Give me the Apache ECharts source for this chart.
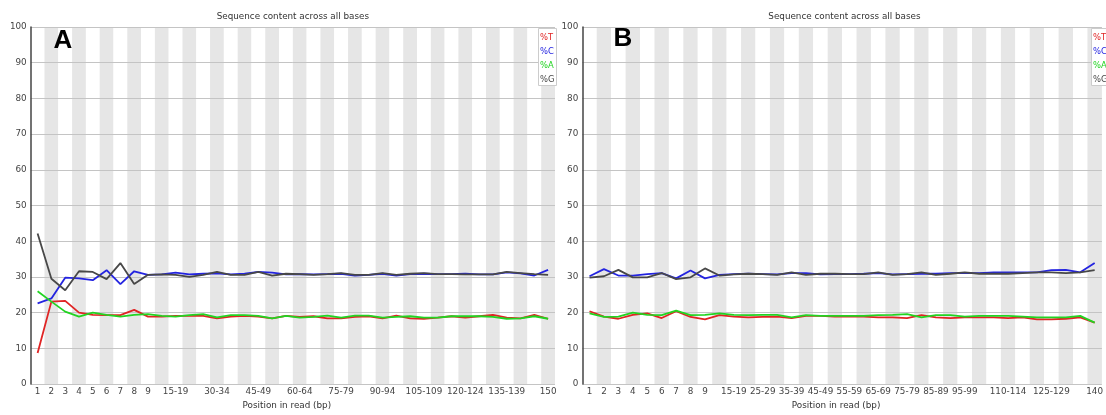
<!DOCTYPE html>
<html>
<head>
<meta charset="utf-8">
<script src="https://cdn.jsdelivr.net/npm/echarts@6/dist/echarts.min.js"></script>
<style>
  html, body { margin: 0; padding: 0; background: #ffffff; }
  #chart { width: 1106px; height: 415px; }
</style>
</head>
<body>
<div id="chart"></div>
<script>
// Panel A: positions 1-150
const categoriesA = ['1','2','3','4','5','6','7','8','9','10-14','15-19','20-24','25-29','30-34','35-39','40-44','45-49','50-54','55-59','60-64','65-69','70-74','75-79','80-84','85-89','90-94','95-99','100-104','105-109','110-114','115-119','120-124','125-129','130-134','135-139','140-144','145-149','150'];
const tickLabelsA = ['1','2','3','4','5','6','7','8','9','15-19','30-34','45-49','60-64','75-79','90-94','105-109','120-124','135-139','150'];
const pctT_A = [8.7,23.1,23.3,20.0,19.4,19.3,19.3,20.8,18.9,18.9,19.1,19.1,19.1,18.4,18.9,19.1,18.9,18.4,19.1,18.8,19.0,18.4,18.4,18.8,19.0,18.4,19.2,18.4,18.3,18.6,19.0,18.6,19.0,19.4,18.6,18.4,19.4,18.3];
const pctC_A = [22.6,24.0,29.8,29.6,29.1,31.9,28.0,31.6,30.6,30.7,31.2,30.7,30.9,31.0,30.7,30.9,31.4,31.2,30.7,30.8,30.7,30.8,30.9,30.4,30.6,30.9,30.4,30.8,30.9,30.8,30.8,30.9,30.7,30.7,31.3,31.0,30.4,32.0];
const pctA_A = [26.0,23.1,20.3,18.9,20.0,19.4,18.9,19.4,19.6,19.1,18.9,19.3,19.6,18.7,19.3,19.3,19.1,18.4,19.1,18.6,18.8,19.2,18.6,19.2,19.2,18.6,18.8,19.0,18.6,18.6,19.0,19.0,19.0,18.8,18.3,18.4,19.0,18.3];
const pctG_A = [42.2,29.5,26.3,31.6,31.4,29.4,33.9,28.0,30.6,30.7,30.6,30.0,30.6,31.4,30.6,30.6,31.4,30.4,30.9,30.8,30.6,30.8,31.1,30.6,30.6,31.1,30.6,30.9,31.1,30.8,30.8,30.7,30.7,30.7,31.4,31.1,30.8,30.6];

// Panel B: positions 1-140
const categoriesB = ['1','2','3','4','5','6','7','8','9','10-14','15-19','20-24','25-29','30-34','35-39','40-44','45-49','50-54','55-59','60-64','65-69','70-74','75-79','80-84','85-89','90-94','95-99','100-104','105-109','110-114','115-119','120-124','125-129','130-134','135-139','140'];
const tickLabelsB = ['1','2','3','4','5','6','7','8','9','15-19','25-29','35-39','45-49','55-59','65-69','75-79','85-89','95-99','110-114','125-129','140'];
const pctT_B = [20.4,18.9,18.3,19.4,19.8,18.5,20.4,18.8,18.1,19.3,18.9,18.7,18.8,18.9,18.5,19.1,19.1,18.9,18.9,18.9,18.7,18.7,18.5,19.3,18.7,18.5,18.7,18.7,18.7,18.5,18.7,18.1,18.1,18.3,18.7,17.2];
const pctC_B = [30.2,32.2,30.4,30.4,30.8,31.1,29.6,31.8,29.6,30.6,30.8,30.9,30.8,30.7,31.1,31.1,30.7,30.8,30.8,30.9,31.1,30.7,30.8,30.9,30.9,31.1,31.1,31.1,31.3,31.3,31.3,31.3,31.9,32.0,31.3,33.9];
const pctA_B = [19.8,18.8,18.9,20.0,19.4,19.3,20.6,19.3,19.4,19.8,19.4,19.3,19.4,19.4,18.7,19.3,19.1,19.1,19.1,19.1,19.3,19.4,19.6,18.7,19.3,19.3,18.9,19.1,19.1,19.1,18.9,18.7,18.7,18.7,19.1,17.2];
const pctG_B = [29.8,30.2,32.0,29.9,29.9,31.1,29.4,29.9,32.4,30.4,30.7,30.9,30.8,30.6,31.3,30.6,30.9,30.9,30.8,30.8,31.3,30.6,30.8,31.3,30.6,30.9,31.3,30.9,30.9,30.9,31.1,31.3,31.3,31.1,31.3,31.9];

const yTicks = [0, 10, 20, 30, 40, 50, 60, 70, 80, 90, 100];
const baseNames = ['%T', '%C', '%A', '%G'];
const panelLetters = ['A', 'B'];
const chartTitle = 'Sequence content across all bases';
const xAxisTitle = 'Position in read (bp)';

const COLORS = { '%T': '#e02424', '%C': '#2424e0', '%A': '#22d422', '%G': '#484848' };
const FONT = 'DejaVu Sans';

const plots = [
  { left: 30.7, cats: categoriesA, ticks: tickLabelsA, data: [pctT_A, pctC_A, pctA_A, pctG_A], legendX: 538.5 },
  { left: 582.3, cats: categoriesB, ticks: tickLabelsB, data: [pctT_B, pctC_B, pctA_B, pctG_B], legendX: 1091.5 }
];
const PLOT_W = 524.3, PLOT_TOP = 27, PLOT_H = 361;

const chart = echarts.init(document.getElementById('chart'), null, { renderer: 'canvas' });

const grid = [], xAxis = [], yAxis = [], series = [], graphic = [];

plots.forEach((p, k) => {
  grid.push({ left: p.left, top: PLOT_TOP, width: PLOT_W, height: PLOT_H, containLabel: false });
  // alternating grey column per position bin
  xAxis.push({
    gridIndex: k,
    type: 'category',
    data: p.cats,
    boundaryGap: true,
    z: 0,
    axisLine: { show: false },
    axisTick: { show: false },
    axisLabel: {
      interval: (i, v) => p.ticks.indexOf(v) >= 0,
      color: '#444', fontSize: 8.8, fontFamily: FONT, margin: 3, hideOverlap: false
    },
    splitLine: { show: false },
    splitArea: { show: true, interval: 0, areaStyle: { color: ['#ffffff', '#e6e6e6'] } },
    name: xAxisTitle,
    nameLocation: 'middle',
    nameGap: 16,
    nameTextStyle: { color: '#333', fontSize: 8.8, fontFamily: FONT, padding: [0, 12, 0, 0] }
  });
  // horizontal grid lines sit above the columns
  yAxis.push({
    gridIndex: k,
    type: 'value',
    z: 1,
    min: yTicks[0], max: yTicks[yTicks.length - 1], interval: yTicks[1] - yTicks[0],
    axisLine: { show: true, lineStyle: { color: '#444', width: 1.5 } },
    axisTick: { show: false },
    axisLabel: { color: '#444', fontSize: 8.8, fontFamily: FONT, margin: 4 },
    splitLine: { show: true, lineStyle: { color: '#c4c4c4', width: 1 } }
  });
  baseNames.forEach((name, j) => {
    series.push({
      name: name,
      type: 'line',
      xAxisIndex: k, yAxisIndex: k,
      data: p.data[j],
      showSymbol: false,
      symbol: 'none',
      lineStyle: { color: COLORS[name], width: 1.8 },
      itemStyle: { color: COLORS[name] },
      z: 3
    });
  });

  const cx = p.left + PLOT_W / 2;
  graphic.push({
    type: 'text', x: cx, y: 17, z: 10,
    style: { text: chartTitle, fill: '#333', font: '8.8px "DejaVu Sans"', align: 'center', verticalAlign: 'middle', textAlign: 'center', textVerticalAlign: 'middle' }
  });
  // legend box
  graphic.push({
    type: 'rect', z: 10,
    shape: { x: p.legendX, y: 28.5, width: 18, height: 57 },
    style: { fill: '#ffffff', stroke: '#cccccc', lineWidth: 1 }
  });
  baseNames.forEach((name, j) => {
    graphic.push({
      type: 'text', x: p.legendX + 1.5, y: 37.7 + j * 13.9, z: 11,
      style: { text: name, fill: COLORS[name], font: '8.4px "DejaVu Sans"', align: 'left', verticalAlign: 'middle', textAlign: 'left', textVerticalAlign: 'middle' }
    });
  });
});

// panel letters
graphic.push({
  type: 'text', x: 63, y: 41, z: 12,
  style: { text: panelLetters[0], fill: '#000', font: 'bold 26px "Liberation Sans"', align: 'center', verticalAlign: 'middle', textAlign: 'center', textVerticalAlign: 'middle' }
});
graphic.push({
  type: 'text', x: 623, y: 39, z: 12,
  style: { text: panelLetters[1], fill: '#000', font: 'bold 26px "Liberation Sans"', align: 'center', verticalAlign: 'middle', textAlign: 'center', textVerticalAlign: 'middle' }
});

chart.setOption({
  animation: false,
  backgroundColor: '#ffffff',
  textStyle: { fontFamily: FONT },
  grid: grid,
  xAxis: xAxis,
  yAxis: yAxis,
  series: series,
  graphic: graphic
});
</script>
</body>
</html>
